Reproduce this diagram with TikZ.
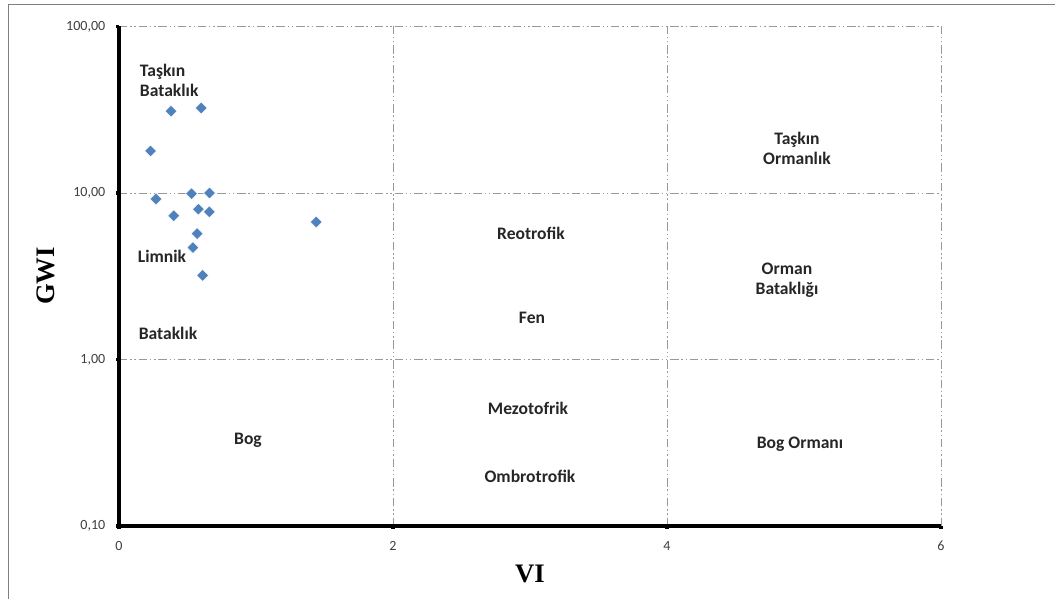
\documentclass[tikz,border=0pt]{standalone}
\usepackage{fontspec}
\setmainfont{Carlito}
\newfontfamily\timesfont{Liberation Serif}
\usetikzlibrary{shapes.geometric}

\begin{document}
\begin{tikzpicture}[x=3.425cm, y=4.1625cm,
    region/.style = {font=\bfseries\fontsize{12.5}{14.2}\selectfont, align=center, text=black!85},
    ticklabel/.style = {font=\fontsize{10}{12}\selectfont, text=black!75, inner sep=1pt},
    axistitle/.style = {font=\timesfont\bfseries\fontsize{19}{21}\selectfont},
    gridline/.style = {black!40, line width=0.7pt, dash pattern=on 6pt off 2pt on 1pt off 2pt on 1pt off 2pt},
    axisline/.style = {line width=2.8pt},
    datapoint/.style = {shape=diamond, fill={rgb,255:red,79;green,129;blue,189}, draw=white, line width=0.3pt, inner sep=0pt, minimum size=8.5pt}]
    \useasboundingbox (-2.975cm,-1.825cm) rectangle (23.4cm,13.15cm);
    % outer frame
    \draw[black!50, line width=0.6pt] (-2.775cm,-1.825cm) |- (23.4cm,13.05cm);
    % grid
    \foreach \y in {1,2,3}
      \draw[gridline] (0,\y) -- (6,\y);
    \foreach \x in {2,4,6}
      \draw[gridline] (\x,0) -- (\x,3);
    % axes
    \draw[axisline] (0,3) -- (0,0) -- (6,0);
    \foreach \y/\lab in {0/{0,10},1/{1,00},2/{10,00},3/{100,00}} {
      \draw[axisline] (0,\y) -- ++(-2pt,0);
      \node[ticklabel, anchor=east] (yl\y) at (-0.3cm,\y) {\lab};
    }
    \foreach \x in {0,2,4,6} {
      \draw[axisline] (\x,0) -- ++(0,-2pt);
      \node[ticklabel] (xl\x) at (\x,-0.5cm) {\x};
    }
    \node[axistitle, rotate=90] (gwi) at (-1.825cm,6.25cm) {GWI};
    \node[axistitle] (vi) at (10.275cm,-1.2cm) {VI};
    % regions
    \node[region, anchor=west, align=left] (tb) at (0.4cm,11.15cm) {Taşkın\\Bataklık};
    \node[region] (limnik) at (1.075cm,6.75cm) {Limnik};
    \node[region] (batak) at (1.225cm,4.825cm) {Bataklık};
    \node[region] (bog) at (3.225cm,2.15cm) {Bog};
    \node[region] (reo) at (10.3cm,7.325cm) {Reotrofik};
    \node[region] (fen) at (10.325cm,5.2cm) {Fen};
    \node[region] (mezo) at (10.225cm,2.95cm) {Mezotofrik};
    \node[region] (ombro) at (10.275cm,1.25cm) {Ombrotrofik};
    \node[region] (to) at (16.95cm,9.45cm) {Taşkın\\Ormanlık};
    \node[region] (ob) at (16.7cm,6.15cm) {Orman\\Bataklığı};
    \node[region] (bo) at (17.025cm,2.05cm) {Bog Ormanı};
    % data
    \foreach \v/\g [count=\i] in {0.38/31, 0.60/32.4, 0.23/17.9, 0.27/9.2, 0.53/9.9, 0.66/10,
        0.40/7.3, 0.58/8.0, 0.66/7.7, 0.57/5.7, 0.54/4.7, 0.61/3.2, 1.44/6.7}
      \node[datapoint] (p\i) at (\v,{log10(\g)+1}) {};
\end{tikzpicture}
\end{document}
